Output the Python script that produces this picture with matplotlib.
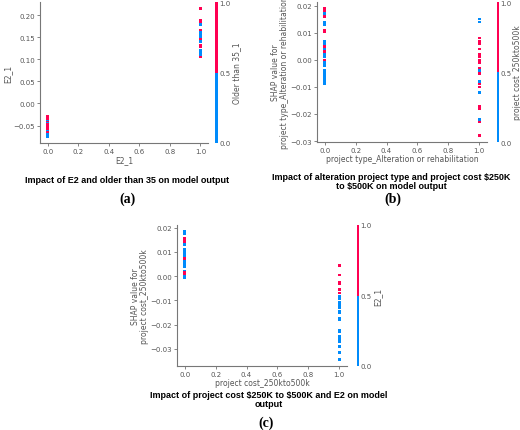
import matplotlib
matplotlib.use("Agg")
import matplotlib.pyplot as plt
from matplotlib.colors import ListedColormap
import numpy as np

BLUE, RED = "#008bfb", "#ff0052"
cmap = ListedColormap([BLUE, RED])

# (a) E2_1 vs SHAP, colored by Older than 35_1
a_x = [0]*16 + [1]*16
a_y = [-0.028,-0.031,-0.034,-0.037,-0.040,-0.043,-0.046,-0.048,-0.050,-0.053,-0.056,-0.059,-0.062,-0.066,-0.070,-0.075,
       0.215,0.188,0.184,0.178,0.165,0.160,0.155,0.150,0.145,0.140,0.132,0.128,0.120,0.115,0.110,0.105]
a_c = [1,1,1,1,0,1,0,1,1,1,1,1,0,1,0,0,
       1,1,1,0,1,0,0,0,1,0,1,1,0,0,0,1]

# (b) project type_Alteration vs SHAP, colored by project cost_250kto500k
b_x = [0]*24 + [1]*22
b_y = [0.019,0.018,0.017,0.016,0.014,0.013,0.011,0.0105,0.007,0.006,0.005,0.004,0.003,0.002,0.001,0.0,-0.001,-0.002,-0.004,-0.005,-0.006,-0.007,-0.008,-0.009,
       0.015,0.014,0.008,0.007,0.006,0.004,0.002,0.001,0.0,-0.001,-0.003,-0.004,-0.005,-0.008,-0.009,-0.010,-0.012,-0.017,-0.018,-0.022,-0.023,-0.028]
b_c = [1,1,0,1,0,0,1,1,0,0,1,0,1,0,0,1,0,0,0,0,0,0,0,0,
       0,0,1,1,1,1,1,1,1,1,1,0,1,0,1,1,0,1,1,0,1,1]

# (c) project cost_250kto500k vs SHAP, colored by E2_1
c_x = [0]*20 + [1]*24
c_y = [0.0185,0.0175,0.0155,0.015,0.014,0.013,0.011,0.0105,0.0095,0.0085,0.0075,0.0065,0.006,0.005,0.004,0.002,0.0015,0.001,0.0,-0.0005,
       0.0045,0.0005,-0.0025,-0.003,-0.0055,-0.007,-0.0085,-0.009,-0.0095,-0.011,-0.012,-0.013,-0.0145,-0.015,-0.0175,-0.018,-0.0225,-0.023,-0.025,-0.026,-0.027,-0.029,-0.0315,-0.0345]
c_c = [0,0,1,1,1,0,0,0,0,0,1,1,0,0,0,0,1,1,0,0,
       1,1,1,1,1,1,0,0,0,0,0,0,0,0,0,0,0,0,0,0,0,0,0,0]

W, H = 520, 431
fig = plt.figure(figsize=(W/100, H/100), dpi=100)

def px(l, t, r, b):
    return [l/W, 1-b/H, (r-l)/W, (b-t)/H]

def panel(rect, cbrect, x, y, c, xlabel, ylabel, clabel, yticks):
    ax = fig.add_axes(px(*rect))
    ax.scatter(x, y, c=c, cmap=cmap, vmin=0, vmax=1, s=3.5, marker="s", linewidths=0)
    ax.set_xlim(-0.05, 1.05)
    ax.set_xticks([0, 0.2, 0.4, 0.6, 0.8, 1.0])
    ax.set_yticks(yticks)
    for s in ["top", "right"]:
        ax.spines[s].set_visible(False)
    for s in ["left", "bottom"]:
        ax.spines[s].set_color("#777777")
    ax.tick_params(labelsize=5, colors="#555555", length=2, width=0.5, pad=1.5)
    ax.set_xlabel(xlabel, fontsize=5.5, color="#555555", labelpad=1)
    ax.set_ylabel(ylabel, fontsize=5.5, color="#555555", labelpad=1, linespacing=1.0)
    cax = fig.add_axes(px(*cbrect))
    sm = plt.cm.ScalarMappable(cmap=cmap, norm=plt.Normalize(0, 1))
    cb = fig.colorbar(sm, cax=cax, ticks=[0, 0.5, 1.0])
    cb.ax.set_yticklabels(["0.0", "0.5", "1.0"])
    cb.outline.set_visible(False)
    cb.ax.tick_params(labelsize=5, colors="#555555", length=0, pad=1)
    cb.set_label(clabel, fontsize=5.5, color="#555555", labelpad=1)
    return ax

panel((40, 3, 208, 144), (215, 3, 218, 144), a_x, a_y, a_c, "E2_1", "SHAP value for\nE2_1", "Older than 35_1",
      [-0.05, 0.0, 0.05, 0.10, 0.15, 0.20])
panel((317, 3, 487, 143), (497, 3, 499, 143), b_x, b_y, b_c, "project type_Alteration or rehabilitation",
      "SHAP value for\nproject type_Alteration or rehabilitation", "project cost_250kto500k",
      [-0.03, -0.02, -0.01, 0.0, 0.01, 0.02])
panel((177, 226, 347, 367), (357, 226, 359, 367), c_x, c_y, c_c, "project cost_250kto500k",
      "SHAP value for\nproject cost_250kto500k", "E2_1",
      [-0.03, -0.02, -0.01, 0.0, 0.01, 0.02])

kw = dict(fontsize=6.5, fontweight="bold", ha="center", va="center", family="Liberation Sans")
fig.text(127/W, 1-181/H, "Impact of E2 and older than 35 on model output", **kw)
fig.text(391/W, 1-182/H, "Impact of alteration project type and project cost \\$250K\nto \\$500K on model output", linespacing=1.1, **kw)
fig.text(269/W, 1-400/H, "Impact of project cost \\$250K to \\$500K and E2 on model\noutput", linespacing=1.1, **kw)
lk = dict(fontsize=10, fontweight="bold", ha="center", va="center", family="Liberation Serif")
fig.text(127/W, 1-199/H, "(a)", **lk)
fig.text(393/W, 1-199/H, "(b)", **lk)
fig.text(266/W, 1-423/H, "(c)", **lk)

fig.savefig("out.png", dpi=100)
